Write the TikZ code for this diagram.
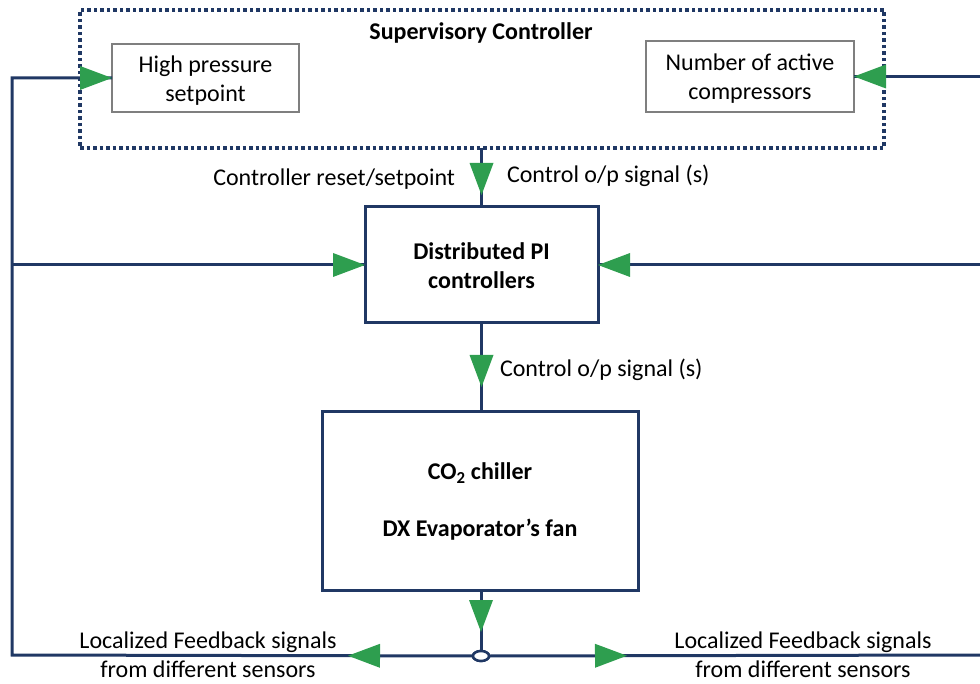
\documentclass[tikz,border=0pt]{standalone}
\usepackage{fontspec}
\setmainfont{Carlito}
\usetikzlibrary{decorations.markings,shapes.geometric}
\definecolor{navy}{HTML}{203864}
\definecolor{arrgreen}{HTML}{2E9E4F}
\definecolor{boxgray}{HTML}{7F7F7F}
\newcommand\greentri{\fill[arrgreen] (0pt,0pt) -- (-32pt,12pt) -- (-32pt,-12pt) -- cycle;}
\begin{document}
\begin{tikzpicture}[x=1pt,y=-1pt,
  every node/.style={font=\fontsize{24}{29}\selectfont, inner sep=0pt, outer sep=0pt},
  wire/.style={draw=navy, line width=3pt, line join=miter},
  tri/.style={postaction={decorate}, decoration={markings, mark=at position #1 with {\greentri}}},
  tritwo/.style 2 args={postaction={decorate}, decoration={markings, mark=at position #1 with {\greentri}, mark=at position #2 with {\greentri}}},
  thinbox/.style={draw=boxgray, line width=1.2pt, fill=white, align=center},
  thickbox/.style={draw=navy, line width=3pt, fill=white, align=center},
  dotbox/.style={draw=navy, line width=3.5pt, dash pattern=on 3.5pt off 3pt},
  lbl/.style={align=center}]
\useasboundingbox (0,0) rectangle (980,684);
% supervisory box
\node[dotbox, minimum width=804pt, minimum height=138pt] (sv) at (482,79) {};
\node[font=\fontsize{24}{29}\selectfont\bfseries] (svt) at (481,33) {Supervisory Controller};
% boxes
\node[thinbox, minimum width=187pt, minimum height=68pt] (hp) at (205.5,78) {};
\node[lbl] (hpt) at (205.5,81) {High pressure\\setpoint};
\node[thinbox, minimum width=208pt, minimum height=71pt] (nac) at (750,76.5) {};
\node[lbl] (nact) at (750,79) {Number of active\\compressors};
\node[thickbox, minimum width=233pt, minimum height=116pt] (pi) at (481.5,265) {};
\node[lbl, font=\fontsize{24}{29}\selectfont\bfseries] (pit) at (481.5,266) {Distributed PI\\controllers};
\node[thickbox, minimum width=316pt, minimum height=178pt] (ch) at (480,501) {};
\node[font=\fontsize{24}{29}\selectfont\bfseries] (cht1) at (480,473) {CO\textsubscript{2} chiller};
\node[font=\fontsize{24}{29}\selectfont\bfseries] (cht2) at (480,530) {DX Evaporator’s fan};
% junction
\node[ellipse, draw=navy, line width=2.5pt, fill=white, minimum width=16pt, minimum height=10pt] (junc) at (481,656) {};
% coordinates
\coordinate (lb) at (12,655);
\coordinate (lm) at (12,265);
\coordinate (rt) at (980,76.5);
\coordinate (rm) at (980,265);
\coordinate (rb) at (980,655);
% connectors
\draw[wire, tritwo={125pt}{1}] (junc.west) -- (lb) |- (hp.west);
\draw[wire, tri=1] (lm) -- (pi.west);
\draw[wire, tri=1] (rt) -- (nac.east);
\draw[wire, tri=1] (rm) -- (pi.east);
\draw[wire, tri=138pt] (junc.east) -- (rb);
\draw[wire, tri=47pt] (pi.north |- sv.south) -- (pi.north);
\draw[wire, tri=64pt] (pi.south) -- (pi.south |- ch.north);
\draw[wire, tri=42pt] (ch.south -| junc.north) -- (junc.north);
% redraw junction on top
\node[ellipse, draw=navy, line width=2.5pt, fill=white, minimum width=16pt, minimum height=10pt] at (junc) {};
% labels
\node[anchor=east] (l1) at (455,179) {Controller reset/setpoint};
\node[anchor=west] (l2) at (507,176) {Control o/p signal (s)};
\node[anchor=west] (l3) at (500,370) {Control o/p signal (s)};
\node[lbl] (l4) at (208,655) {Localized Feedback signals\\from different sensors};
\node[lbl] (l5) at (803,655) {Localized Feedback signals\\from different sensors};
\end{tikzpicture}
\end{document}
